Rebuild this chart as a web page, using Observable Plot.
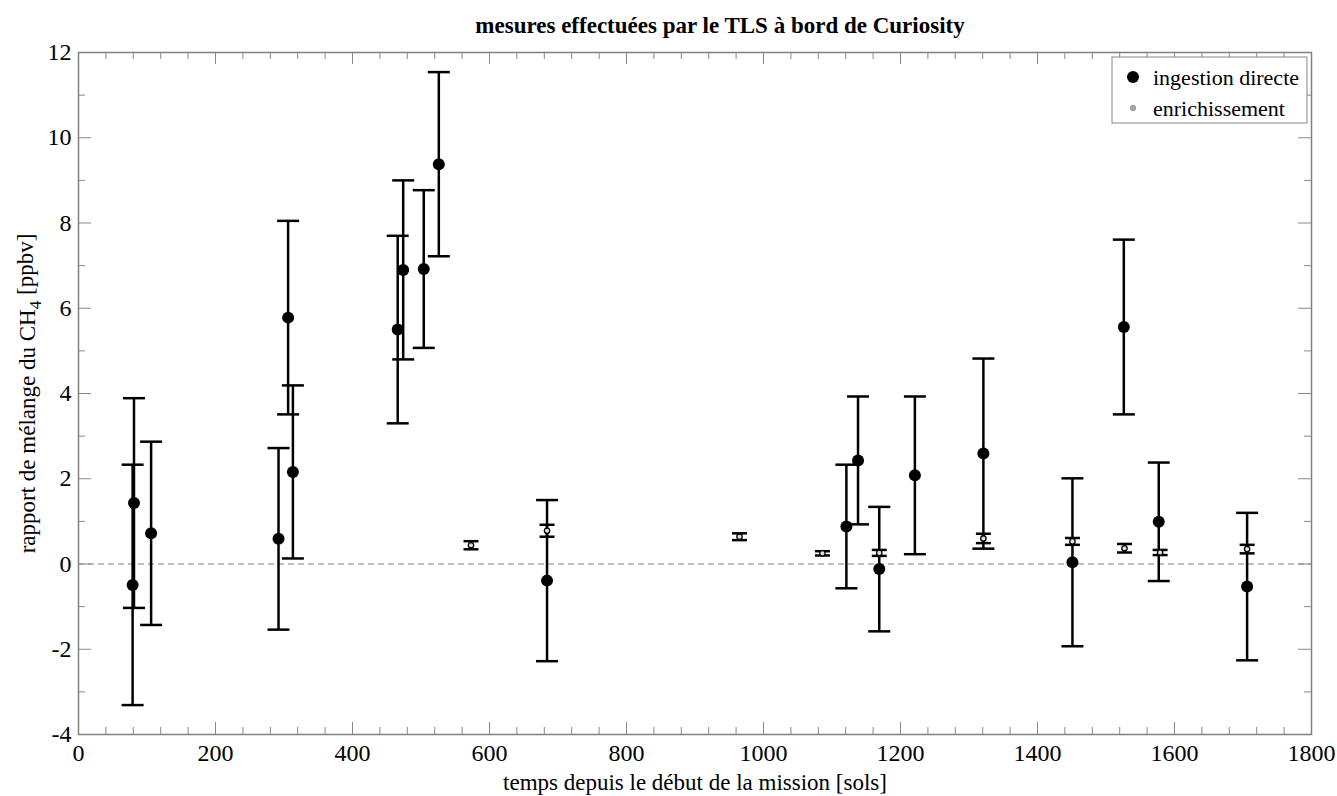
<!DOCTYPE html>
<html>
<head>
<meta charset="utf-8">
<script src="https://cdn.jsdelivr.net/npm/d3@7"></script>
<script src="https://cdn.jsdelivr.net/npm/@observablehq/plot@0.6"></script>
<style>
  html, body { margin: 0; padding: 0; background: #fff; }
  #chart svg { display: block; }
</style>
</head>
<body>
<div id="chart"></div>
<script>
// ---- data (sols, CH4 mixing ratio in ppbv, 1-sigma error) ----
const directSol   = [79, 81, 106, 292, 306, 313, 466, 474, 504, 526, 684, 1121, 1138, 1169, 1221, 1321, 1451, 1526, 1577, 1706];
const directValue = [-0.49, 1.43, 0.72, 0.59, 5.78, 2.16, 5.50, 6.90, 6.92, 9.38, -0.39, 0.88, 2.43, -0.12, 2.08, 2.59, 0.04, 5.56, 0.99, -0.53];
const directError = [2.82, 2.46, 2.15, 2.13, 2.27, 2.03, 2.20, 2.10, 1.85, 2.16, 1.89, 1.45, 1.50, 1.46, 1.85, 2.23, 1.97, 2.05, 1.39, 1.73];

const enrichSol   = [573, 684, 965, 1086, 1169, 1321, 1451, 1527, 1579, 1706];
const enrichValue = [0.44, 0.78, 0.64, 0.25, 0.26, 0.60, 0.53, 0.37, 0.27, 0.35];
const enrichError = [0.095, 0.14, 0.08, 0.05, 0.07, 0.11, 0.08, 0.10, 0.06, 0.10];

const xTicks = [0, 200, 400, 600, 800, 1000, 1200, 1400, 1600, 1800];
const yTicks = [-4, -2, 0, 2, 4, 6, 8, 10, 12];

const titleText = "mesures effectuées par le TLS à bord de Curiosity";
const xLabel = "temps depuis le début de la mission [sols]";
const yLabel = "rapport de mélange du CH4 [ppbv]";
const legendLabels = ["ingestion directe", "enrichissement"];

// ---- tables ----
const direct = directSol.map((s, i) => ({sol: s, v: directValue[i], e: directError[i]}));
const enrich = enrichSol.map((s, i) => ({sol: s, v: enrichValue[i], e: enrichError[i]}));
const caps = rows => rows.flatMap(d => [{sol: d.sol, y: d.v + d.e}, {sol: d.sol, y: d.v - d.e}]);

const xMinor = d3.range(0, 1801, 40).filter(v => !xTicks.includes(v));
const yMinor = d3.range(-4, 12.1, 1).filter(v => !yTicks.includes(v));

// horizontal cap symbol
const capSymbol = {
  draw(context, size) {
    const r = Math.sqrt(size / Math.PI);
    context.moveTo(-r, 0);
    context.lineTo(r, 0);
  }
};

const W = 1337, H = 796;
const mT = 52, mB = 62, mL = 78, mR = 26;
const FH = H - mT - mB;          // frame height
const FW = W - mL - mR;          // frame width
const tickGray = "#888";
const serif = "'Liberation Serif', 'Times New Roman', serif";

const chart = Plot.plot({
  width: W,
  height: H,
  marginTop: mT, marginBottom: mB, marginLeft: mL, marginRight: mR,
  style: {fontFamily: serif, fontSize: "24px", background: "#fff", color: "#000"},
  x: {domain: [0, 1800]},
  y: {domain: [-4, 12]},
  marks: [
    // zero line
    Plot.ruleY([0], {stroke: "#aaa", strokeWidth: 1.5, strokeDasharray: "6,4"}),
    // inward ticks: bottom / top
    Plot.ruleX(xTicks, {stroke: tickGray, strokeWidth: 1, insetTop: FH - 12}),
    Plot.ruleX(xTicks, {stroke: tickGray, strokeWidth: 1, insetBottom: FH - 12}),
    Plot.ruleX(xMinor, {stroke: tickGray, strokeWidth: 1, insetTop: FH - 7}),
    Plot.ruleX(xMinor, {stroke: tickGray, strokeWidth: 1, insetBottom: FH - 7}),
    // inward ticks: left / right
    Plot.ruleY(yTicks, {stroke: tickGray, strokeWidth: 1, insetRight: FW - 13}),
    Plot.ruleY(yTicks, {stroke: tickGray, strokeWidth: 1, insetLeft: FW - 13}),
    Plot.ruleY(yMinor, {stroke: tickGray, strokeWidth: 1, insetRight: FW - 7}),
    Plot.ruleY(yMinor, {stroke: tickGray, strokeWidth: 1, insetLeft: FW - 7}),
    // direct ingestion
    Plot.ruleX(direct, {x: "sol", y1: d => d.v - d.e, y2: d => d.v + d.e, stroke: "#000", strokeWidth: 2.5}),
    Plot.dot(caps(direct), {x: "sol", y: "y", symbol: capSymbol, r: 11, stroke: "#000", strokeWidth: 2.5, fill: "none"}),
    Plot.dot(direct, {x: "sol", y: "v", r: 6, fill: "#000", stroke: "none"}),
    // enrichment
    Plot.ruleX(enrich, {x: "sol", y1: d => d.v - d.e, y2: d => d.v + d.e, stroke: "#000", strokeWidth: 2.5}),
    Plot.dot(caps(enrich), {x: "sol", y: "y", symbol: capSymbol, r: 7.5, stroke: "#000", strokeWidth: 2.5, fill: "none"}),
    Plot.dot(enrich, {x: "sol", y: "v", r: 2.7, fill: "#ddd", stroke: "#000", strokeWidth: 1.3}),
    // frame and axes
    Plot.frame({stroke: "#808080", strokeWidth: 1.5}),
    Plot.axisX({ticks: xTicks, tickSize: 0, tickPadding: 9, label: null, tickFormat: d => String(d), fill: "#000", fontSize: 24}),
    Plot.axisY({ticks: yTicks, tickSize: 0, tickPadding: 7, label: null, tickFormat: d => String(d), fill: "#000", fontSize: 24}),
    // texts
    Plot.text([titleText], {frameAnchor: "top", lineAnchor: "middle", textAnchor: "middle", dy: -27, dx: 25, fontWeight: "bold", fontSize: 23, fill: "#000"}),
    Plot.text([xLabel], {frameAnchor: "bottom", lineAnchor: "middle", textAnchor: "middle", dy: 48, fontSize: 23, fill: "#000"}),
    Plot.text([yLabel], {frameAnchor: "left", lineAnchor: "middle", textAnchor: "middle", rotate: -90, dx: -51, fontSize: 23, fill: "#000"})
  ]
});

// subscript in CH4
d3.select(chart).selectAll("text").filter(function() { return this.textContent === yLabel; })
  .each(function() {
    const t = d3.select(this);
    t.text(null);
    t.attr("text-anchor", "middle");
    t.append("tspan").text("rapport de mélange du CH");
    t.append("tspan").attr("dy", "0.35em").attr("font-size", "0.75em").text("4");
    t.append("tspan").attr("dy", "-0.35em").text(" [ppbv]");
  });

// legend box
const svg = d3.select(chart);
const lg = svg.append("g").attr("font-family", serif).attr("font-size", 22).attr("text-anchor", "start");
lg.append("rect").attr("x", 1112).attr("y", 57).attr("width", 195).attr("height", 66)
  .attr("fill", "#fff").attr("stroke", "#888").attr("stroke-width", 1);
lg.append("circle").attr("cx", 1133).attr("cy", 77).attr("r", 6).attr("fill", "#000");
lg.append("circle").attr("cx", 1133).attr("cy", 108).attr("r", 2.7).attr("fill", "#aaa").attr("stroke", "#888").attr("stroke-width", 0.8);
lg.append("text").attr("x", 1153).attr("y", 85).attr("fill", "#000").attr("text-anchor", "start").text(legendLabels[0]);
lg.append("text").attr("x", 1153).attr("y", 116).attr("fill", "#000").attr("text-anchor", "start").text(legendLabels[1]);

document.getElementById("chart").appendChild(chart);
</script>
</body>
</html>
